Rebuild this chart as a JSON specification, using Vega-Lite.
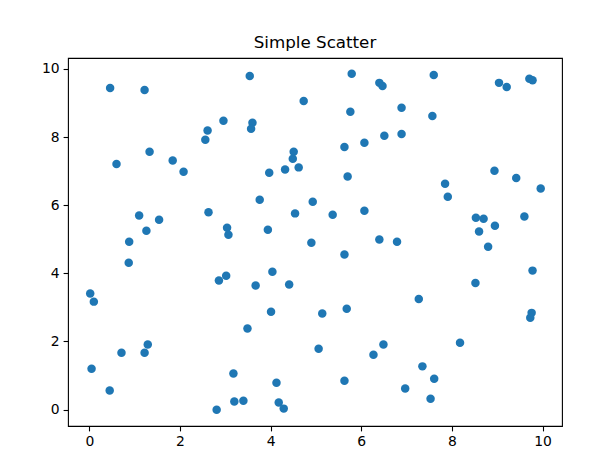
{
  "$schema": "https://vega.github.io/schema/vega-lite/v6.json",
  "width": 494,
  "height": 368,
  "autosize": {"type": "none"},
  "padding": {"left": 68, "top": 58, "right": 37, "bottom": 42},
  "background": "white",
  "title": {"text": "Simple Scatter", "font": "DejaVu Sans", "fontSize": 16.7, "fontWeight": "normal", "color": "black", "offset": 6, "anchor": "middle"},
  "config": {
    "view": {"stroke": "black", "strokeWidth": 1.1},
    "axis": {"domain": false, "grid": false, "tickColor": "black", "tickWidth": 1.1, "tickSize": 4.9, "labelFont": "DejaVu Sans", "labelFontSize": 13.9, "labelColor": "black", "labelPadding": 4, "title": null}
  },
  "data": {"values": [
    {"x": 0.46, "y": 9.44}, {"x": 1.22, "y": 9.38}, {"x": 3.54, "y": 9.79}, {"x": 4.73, "y": 9.06},
    {"x": 2.96, "y": 8.48}, {"x": 3.60, "y": 8.42}, {"x": 3.57, "y": 8.24}, {"x": 2.61, "y": 8.19},
    {"x": 2.56, "y": 7.92}, {"x": 1.33, "y": 7.57}, {"x": 0.60, "y": 7.21}, {"x": 1.84, "y": 7.31},
    {"x": 2.08, "y": 6.98}, {"x": 4.51, "y": 7.57}, {"x": 4.49, "y": 7.36}, {"x": 4.62, "y": 7.11},
    {"x": 4.32, "y": 7.05}, {"x": 3.97, "y": 6.95}, {"x": 3.76, "y": 6.16}, {"x": 2.63, "y": 5.79},
    {"x": 4.54, "y": 5.76}, {"x": 1.10, "y": 5.70}, {"x": 1.54, "y": 5.57}, {"x": 1.26, "y": 5.25},
    {"x": 3.04, "y": 5.34}, {"x": 3.07, "y": 5.13}, {"x": 3.94, "y": 5.28}, {"x": 0.88, "y": 4.93},
    {"x": 5.79, "y": 9.86}, {"x": 6.40, "y": 9.59}, {"x": 6.47, "y": 9.50}, {"x": 7.60, "y": 9.82},
    {"x": 9.04, "y": 9.59}, {"x": 9.21, "y": 9.47}, {"x": 9.71, "y": 9.71}, {"x": 9.78, "y": 9.67},
    {"x": 5.76, "y": 8.74}, {"x": 6.89, "y": 8.86}, {"x": 7.57, "y": 8.62}, {"x": 5.63, "y": 7.71},
    {"x": 6.07, "y": 7.83}, {"x": 6.51, "y": 8.04}, {"x": 6.89, "y": 8.09}, {"x": 5.70, "y": 6.84},
    {"x": 8.94, "y": 7.01}, {"x": 9.42, "y": 6.80}, {"x": 9.96, "y": 6.49}, {"x": 7.85, "y": 6.63},
    {"x": 7.91, "y": 6.25}, {"x": 4.93, "y": 6.10}, {"x": 5.37, "y": 5.72}, {"x": 6.07, "y": 5.84},
    {"x": 8.53, "y": 5.63}, {"x": 8.70, "y": 5.60}, {"x": 9.60, "y": 5.67}, {"x": 8.95, "y": 5.40},
    {"x": 8.60, "y": 5.23}, {"x": 6.40, "y": 4.99}, {"x": 6.79, "y": 4.93}, {"x": 4.90, "y": 4.90},
    {"x": 8.80, "y": 4.78}, {"x": 5.63, "y": 4.55}, {"x": 9.78, "y": 4.08}, {"x": 8.52, "y": 3.72},
    {"x": 7.27, "y": 3.25}, {"x": 5.14, "y": 2.82}, {"x": 5.68, "y": 2.96}, {"x": 9.76, "y": 2.84},
    {"x": 9.73, "y": 2.70}, {"x": 5.06, "y": 1.79}, {"x": 6.49, "y": 1.91}, {"x": 6.27, "y": 1.61},
    {"x": 8.18, "y": 1.96}, {"x": 7.35, "y": 1.27}, {"x": 7.61, "y": 0.91}, {"x": 5.63, "y": 0.85},
    {"x": 6.97, "y": 0.62}, {"x": 7.53, "y": 0.32},
    {"x": 0.87, "y": 4.31}, {"x": 0.02, "y": 3.41}, {"x": 0.10, "y": 3.17}, {"x": 2.86, "y": 3.79},
    {"x": 3.02, "y": 3.93}, {"x": 3.67, "y": 3.64}, {"x": 4.04, "y": 4.05}, {"x": 4.41, "y": 3.67},
    {"x": 4.01, "y": 2.87}, {"x": 3.49, "y": 2.38}, {"x": 1.29, "y": 1.91}, {"x": 1.22, "y": 1.67},
    {"x": 0.71, "y": 1.67}, {"x": 0.05, "y": 1.20}, {"x": 0.45, "y": 0.56}, {"x": 3.18, "y": 1.06},
    {"x": 4.13, "y": 0.79}, {"x": 2.81, "y": 0.00}, {"x": 3.20, "y": 0.24}, {"x": 3.40, "y": 0.26},
    {"x": 4.18, "y": 0.21}, {"x": 4.29, "y": 0.03}
  ]},
  "mark": {"type": "circle", "size": 72, "color": "#1f77b4", "opacity": 1},
  "encoding": {
    "x": {"field": "x", "type": "quantitative", "scale": {"domain": [-0.47, 10.43], "nice": false, "zero": false}, "axis": {"values": [0, 2, 4, 6, 8, 10]}},
    "y": {"field": "y", "type": "quantitative", "scale": {"domain": [-0.48, 10.32], "nice": false, "zero": false}, "axis": {"values": [0, 2, 4, 6, 8, 10]}}
  }
}
